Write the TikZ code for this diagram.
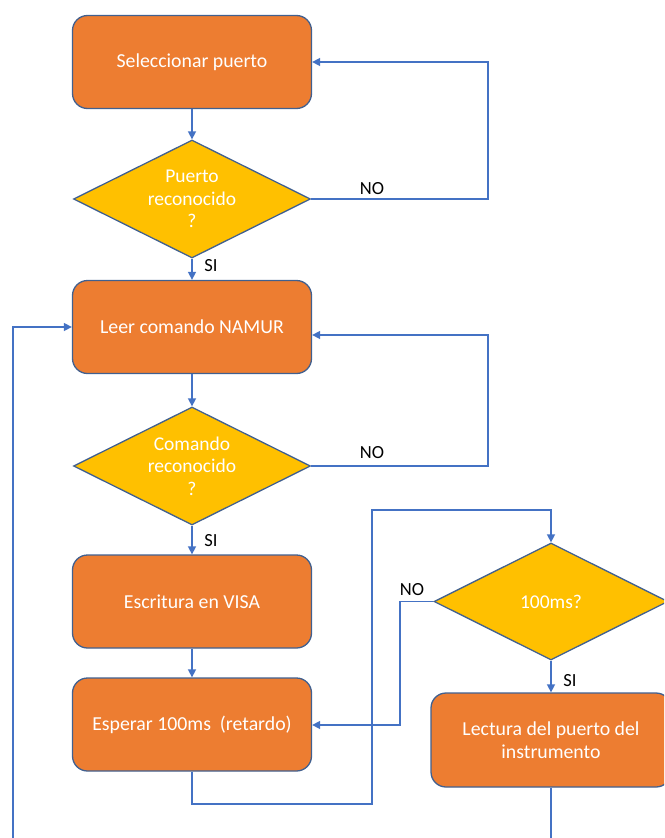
\documentclass[tikz,border=0pt]{standalone}
\usepackage{fontspec}
\setmainfont{Carlito}
\usetikzlibrary{shapes.geometric,arrows.meta}
\definecolor{boxfill}{HTML}{ED7D31}
\definecolor{decfill}{HTML}{FFC000}
\definecolor{edge}{HTML}{41608F}
\definecolor{flowline}{HTML}{4472C4}
\tikzset{
  procbox/.style={rectangle, rounded corners=15pt, draw=edge, line width=1.3pt,
    fill=boxfill, text=white, minimum width=239pt, minimum height=93pt,
    align=center, font=\fontsize{19.8}{23}\selectfont, inner sep=2pt},
  decision/.style={diamond, aspect=2, draw=edge, line width=1.3pt, fill=decfill,
    text=white, minimum width=237pt, minimum height=118pt, inner sep=0pt,
    align=center, font=\fontsize{19.5}{22.5}\selectfont},
  flow/.style={draw=flowline, line width=1.5pt,
    -{Triangle[length=8pt,width=8pt]}},
  plainflow/.style={draw=flowline, line width=1.5pt},
  answer/.style={font=\fontsize{18.5}{20}\selectfont, text=black, inner sep=0pt}
}
\begin{document}
\begin{tikzpicture}[x=1pt,y=-1pt]
  \useasboundingbox (0,0) rectangle (664,838);
  \clip (0,0) rectangle (664,838);

  % main column
  \node[procbox] (b1) at (192,62) {Seleccionar puerto};
  \node[decision] (d1) at (192,199) {Puerto\\reconocido\\?};
  \node[procbox] (b2) at (192,327) {Leer comando NAMUR};
  \node[decision] (d2) at (192,466) {Comando\\reconocido\\?};
  \node[procbox] (b3) at (192,601.5) {Escritura en VISA};
  \node[procbox] (b4) at (192,724.5) {Esperar 100ms\ \ (retardo)};

  % right column
  \node[decision, minimum width=234pt, minimum height=117pt] (d3) at (551,601.5) {100ms?};
  \node[procbox, minimum width=240pt, minimum height=94pt] (b5) at (551,740)
    {Lectura del puerto del\\instrumento};

  % routing points
  \coordinate (r1) at (488,62);
  \coordinate (r2) at (488,335);
  \coordinate (loopstart) at (13,838);
  \coordinate (w1) at (372,804);
  \coordinate (w2) at (372,510);
  \coordinate (r3) at (400,725);
  \coordinate (tail) at (551,838);

  % connectors
  \draw[flow] (b1.south) -- (d1.north);
  \draw[flow] (d1.east) -| (r1) -- (b1.east);
  \draw[flow] (d1.south) -- (b2.north);
  \draw[flow] (b2.south) -- (d2.north);
  \draw[flow] (d2.east) -| (r2) -- (r2 -| b2.east);
  \draw[flow] (loopstart) |- (b2.west);
  \draw[flow] (d2.south) -- (b3.north);
  \draw[flow] (b3.south) -- (b4.north);
  \draw[flow] (b4.south) |- (w1) -- (w2) -| (d3.north);
  \draw[flow] (d3.west) -| (r3) -- (r3 -| b4.east);
  \draw[flow] (d3.south) -- (b5.north);
  \draw[plainflow] (b5.south) -- (tail);

  % branch labels
  \node[answer] (no1) at (372,189) {NO};
  \node[answer] (si1) at (211,266) {SI};
  \node[answer] (no2) at (372,453) {NO};
  \node[answer] (si2) at (211,541) {SI};
  \node[answer] (no3) at (412,590) {NO};
  \node[answer] (si3) at (570,681) {SI};
\end{tikzpicture}
\end{document}
